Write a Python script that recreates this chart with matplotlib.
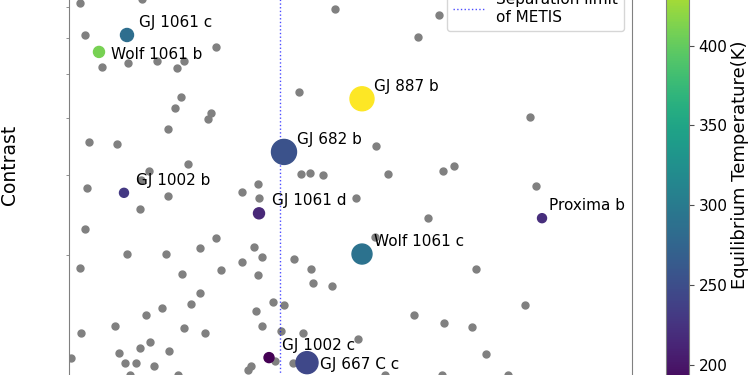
import numpy as np
import matplotlib
matplotlib.use('Agg')
import matplotlib.pyplot as plt
from matplotlib.ticker import NullFormatter

# background sample of known nearby planets (separation in mas, contrast in 1e-8)
sep_all = [2.93, 19.45, 70.87, 4.26, 39.17, 15.72, 23.45, 30.64, 8.79, 28.77,
           61.28, 29.84, 28.24, 37.83, 37.03, 26.38, 5.33, 12.79, 31.70, 61.81,
           64.21, 67.67, 21.31, 19.18, 50.36, 4.80, 98.58, 92.98, 81.79, 122.82,
           84.99, 99.65, 102.58, 124.42, 26.38, 46.09, 50.62, 18.92, 4.26, 39.17,
           34.90, 49.29, 15.45, 25.84, 51.42, 59.95, 46.09, 64.48, 2.93, 40.50,
           30.11, 50.36, 65.01, 70.07, 34.90, 54.35, 57.28, 32.50, 24.78, 20.52,
           49.82, 12.26, 3.20, 30.64, 36.23, 51.42, 56.48, 62.34, 21.58, 13.32,
           18.92, 26.64, 0.53, 14.92, 17.85, 22.65, 48.49, 47.69, 54.88, 59.68,
           16.25, 29.04, 76.47, 95.65, 81.53, 108.44, 121.49, 91.92, 99.91, 107.38,
           111.10, 77.00, 84.19, 99.38, 116.96]
con_all = [7.16, 7.30, 6.95, 6.09, 5.73, 5.28, 5.34, 5.34, 5.18, 5.15,
           4.56, 4.45, 4.21, 4.10, 3.98, 3.78, 3.54, 3.51, 3.17, 3.01,
           3.03, 3.00, 3.06, 2.92, 2.87, 2.81, 6.74, 6.03, 3.47, 4.02,
           3.01, 3.06, 3.14, 2.84, 2.70, 2.75, 2.67, 2.52, 2.28, 2.18,
           2.07, 2.08, 2.01, 2.01, 1.98, 1.96, 1.93, 1.86, 1.87, 1.85,
           1.82, 1.81, 1.74, 1.71, 1.65, 1.58, 1.55, 1.56, 1.53, 1.48,
           1.51, 1.40, 1.35, 1.38, 1.35, 1.40, 1.36, 1.35, 1.29, 1.22,
           1.25, 1.23, 1.19, 1.16, 1.16, 1.14, 1.14, 1.12, 1.17, 1.16,
           1.09, 1.09, 2.67, 2.41, 2.19, 1.86, 1.55, 1.48, 1.42, 1.39,
           1.21, 1.31, 1.09, 1.09, 1.09]

# highlighted targets
names = ['GJ 1061 c', 'Wolf 1061 b', 'GJ 887 b', 'GJ 682 b', 'GJ 1002 b',
         'GJ 1061 d', 'Proxima b', 'Wolf 1061 c', 'GJ 1002 c', 'GJ 667 C c']
sep = [15.45, 7.99, 78.06, 57.28, 14.65, 50.62, 126.02, 78.06, 53.29, 63.41]
con = [6.09, 5.59, 4.41, 3.37, 2.74, 2.47, 2.41, 2.01, 1.19, 1.16]
teq = [285, 410, 468, 255, 230, 215, 220, 290, 183, 245]
msize = [88, 63, 298, 324, 42, 63, 42, 207, 52, 251]
offs = [(9, 9), (9, -1.5), (9, 9), (9, 9), (9, 9), (9, 9), (5, 9), (9, 9), (9, 9), (9, -1.5)]

metis_limit = 56.2
cbar_ticks = [200, 250, 300, 350, 400]

fig = plt.figure(figsize=(7.5, 3.75), dpi=100)
ax = fig.add_axes([0.092, -0.0453, 0.7507, 1.2133])
cax = fig.add_axes([0.888, -0.0453, 0.0307, 1.2133])

ax.scatter(sep_all, np.array(con_all) * 1e-8, s=25, color='gray', zorder=2)
sc = ax.scatter(sep, np.array(con) * 1e-8, s=msize, c=teq, cmap='viridis', zorder=3)
for n, x, y, o in zip(names, sep, con, offs):
    ax.annotate(n, (x, y * 1e-8), xytext=o, textcoords='offset points',
                fontsize=11, ha='left', va='center', zorder=4)

ax.axvline(metis_limit, color='blue', linestyle=':', linewidth=1, alpha=0.7,
           label='Separation limit\nof METIS')

ax.set_yscale('log')
ax.set_xlim(0, 150)
ax.set_ylim(1e-8, 1e-7)
# the bottom and the decade labels are outside this crop
ax.yaxis.set_major_formatter(NullFormatter())
ax.yaxis.set_minor_formatter(NullFormatter())
ax.tick_params(axis='x', labelbottom=False)
ax.set_ylabel('Contrast', fontsize=13.5)
ax.yaxis.set_label_coords(-0.088, 0.5)
for s in ax.spines.values():
    s.set_color('0.5')
ax.tick_params(which='both', color='0.5')

ax.legend(loc='lower right', bbox_to_anchor=(0.9858, 0.7934), borderaxespad=0,
          fontsize=11)

cb = fig.colorbar(sc, cax=cax, ticks=cbar_ticks)
cb.outline.set_edgecolor('0.5')
cb.ax.tick_params(labelsize=11, color='0.3')
cb.set_label('Equilibrium Temperature(K)', fontsize=13, labelpad=2)

fig.savefig('out.png', dpi=100)
